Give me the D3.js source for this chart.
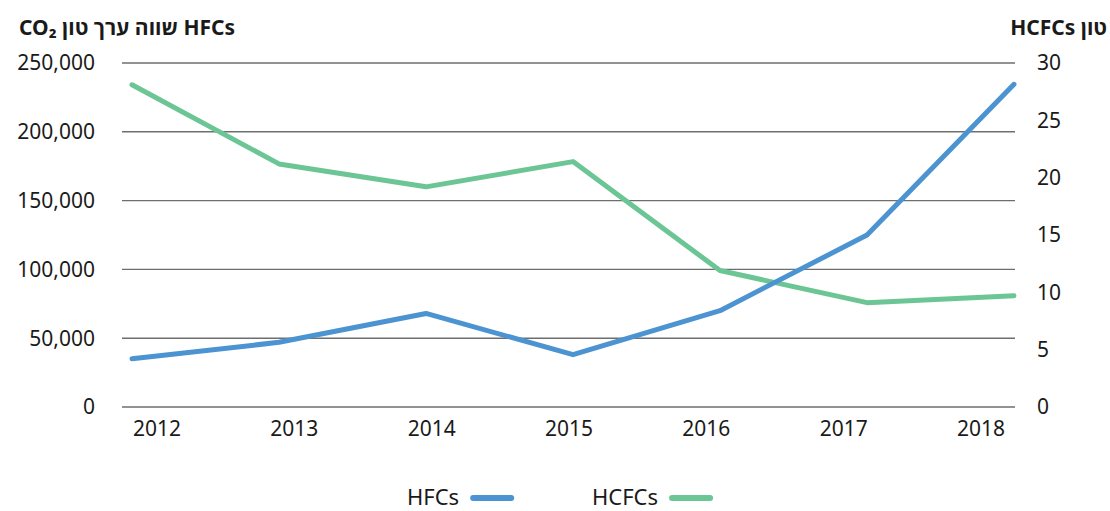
<!DOCTYPE html>
<html lang="he">
<head>
    <meta charset="UTF-8">
    <title>HFCs / HCFCs</title>
    <style>
        body {
            margin: 0;
            background: #fff;
            font-family: 'Noto Sans', 'Open Sans', sans-serif;
        }
        svg { display: block; }
        .tick-label { font-size: 21px; fill: #1a1a1a; }
        .axis-title { font-size: 21px; font-weight: bold; fill: #1a1a1a; }
        .legend-label { font-size: 22px; fill: #1a1a1a; }
    </style>
    <script src="https://d3js.org/d3.v7.min.js"></script>
</head>
<body>
    <svg id="chart" width="1110" height="511"></svg>
    <script>
        // data
        const years = ["2012", "2013", "2014", "2015", "2016", "2017", "2018"];
        const hfcs = [35000, 47000, 68000, 38000, 70000, 125000, 234500];
        const hcfcs = [28.1, 21.2, 19.2, 21.4, 11.9, 9.1, 9.7];
        const leftTicks = [0, 50000, 100000, 150000, 200000, 250000];
        const rightTicks = [0, 5, 10, 15, 20, 25, 30];
        const leftTitle = "HFCs שווה ערך טון CO\u2082";
        const rightTitle = "טון HCFCs";
        const seriesNames = ["HFCs", "HCFCs"];
        const colors = ["#4b93d1", "#6cc594"];

        const svg = d3.select("#chart");
        const gridLeft = 122, gridRight = 1015;
        const plotTop = 63, plotBottom = 407;

        const x = d3.scalePoint().domain(years).range([132, 1014]);
        const xLabel = d3.scalePoint().domain(years).range([157, 981]);
        const yLeft = d3.scaleLinear().domain([0, 250000]).range([plotBottom, plotTop]);
        const yRight = d3.scaleLinear().domain([0, 30]).range([plotBottom, plotTop]);

        // gridlines
        svg.append("g").selectAll("line")
            .data(leftTicks)
            .join("line")
            .attr("x1", gridLeft)
            .attr("x2", gridRight)
            .attr("y1", d => yLeft(d))
            .attr("y2", d => yLeft(d))
            .attr("stroke", "#6e6e6e")
            .attr("stroke-width", 1.4);

        // left tick labels
        svg.append("g").selectAll("text")
            .data(leftTicks)
            .join("text")
            .attr("class", "tick-label")
            .attr("x", 95)
            .attr("y", d => yLeft(d))
            .attr("dy", "0.35em")
            .attr("text-anchor", "end")
            .text(d => d3.format(",")(d));

        // right tick labels
        svg.append("g").selectAll("text")
            .data(rightTicks)
            .join("text")
            .attr("class", "tick-label")
            .attr("x", 1037)
            .attr("y", d => yRight(d))
            .attr("dy", "0.35em")
            .text(d => d);

        // year labels
        svg.append("g").selectAll("text")
            .data(years)
            .join("text")
            .attr("class", "tick-label")
            .attr("x", d => xLabel(d))
            .attr("y", 429)
            .attr("dy", "0.35em")
            .attr("text-anchor", "middle")
            .text(d => d);

        // axis titles (rtl)
        svg.append("text")
            .attr("class", "axis-title")
            .attr("x", 235)
            .attr("y", 35)
            .attr("direction", "rtl")
            .attr("text-anchor", "start")
            .text(leftTitle);

        svg.append("text")
            .attr("class", "axis-title")
            .attr("x", 1107)
            .attr("y", 35)
            .attr("direction", "rtl")
            .attr("text-anchor", "start")
            .text(rightTitle);

        // lines
        const lineLeft = d3.line().x((d, i) => x(years[i])).y(d => yLeft(d));
        const lineRight = d3.line().x((d, i) => x(years[i])).y(d => yRight(d));

        svg.append("path")
            .datum(hcfcs)
            .attr("d", lineRight)
            .attr("fill", "none")
            .attr("stroke", colors[1])
            .attr("stroke-width", 5)
            .attr("stroke-linecap", "round")
            .attr("stroke-linejoin", "round");

        svg.append("path")
            .datum(hfcs)
            .attr("d", lineLeft)
            .attr("fill", "none")
            .attr("stroke", colors[0])
            .attr("stroke-width", 5)
            .attr("stroke-linecap", "round")
            .attr("stroke-linejoin", "round");

        // legend
        const legendX = [407, 592];
        const lg = svg.append("g").selectAll("g")
            .data(seriesNames)
            .join("g")
            .attr("transform", (d, i) => `translate(${legendX[i]},498)`);

        lg.append("text")
            .attr("class", "legend-label")
            .attr("y", 0)
            .attr("dy", "0.33em")
            .text(d => d);

        lg.each(function (d, i) {
            const w = this.querySelector("text").getComputedTextLength();
            d3.select(this).append("line")
                .attr("x1", w + 14)
                .attr("x2", w + 14 + 38)
                .attr("y1", 0)
                .attr("y2", 0)
                .attr("stroke", colors[i])
                .attr("stroke-width", 6)
                .attr("stroke-linecap", "round");
        });
    </script>
</body>
</html>
